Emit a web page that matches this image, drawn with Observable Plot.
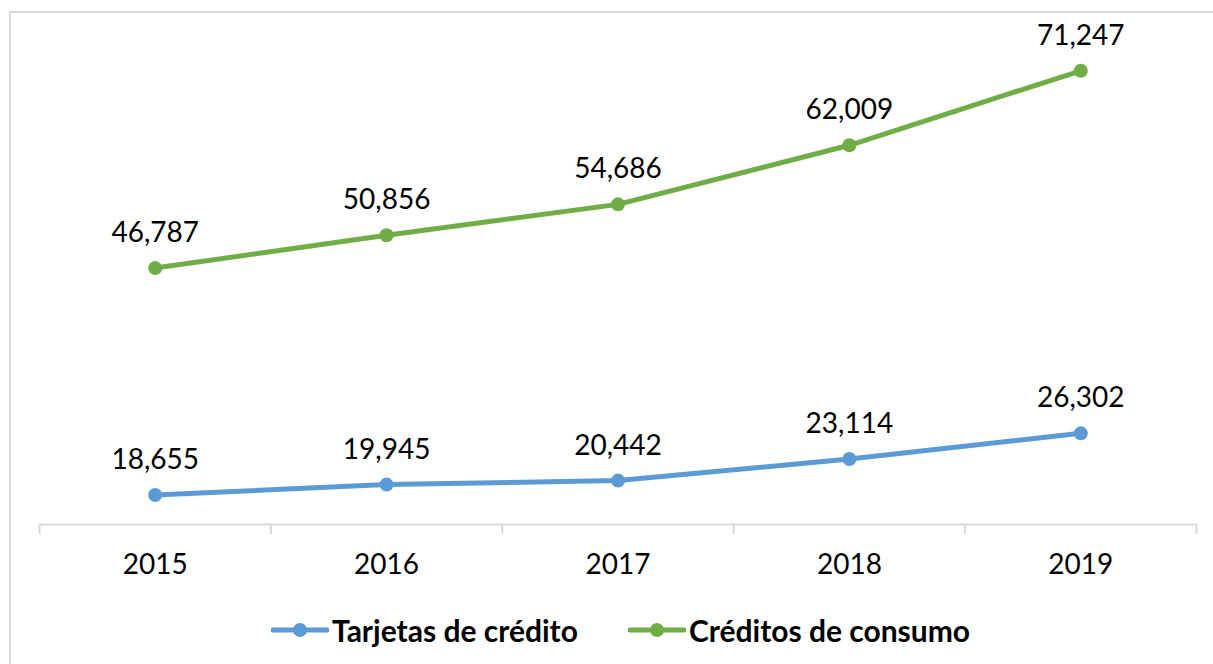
<!DOCTYPE html>
<html>
<head>
<meta charset="utf-8">
<script src="https://cdn.jsdelivr.net/npm/d3@7"></script>
<script src="https://cdn.jsdelivr.net/npm/@observablehq/plot@0.6"></script>
<style>
  html, body { margin: 0; padding: 0; background: #fff; overflow: hidden; }
  #wrap { position: relative; width: 1213px; height: 664px; font-family: Lato, "Open Sans", sans-serif; }
  #frame { position: absolute; left: 9px; top: 11px; width: 1230px; height: 700px; border: 2px solid #d9d9d9; box-sizing: border-box; pointer-events: none; }
  #chart { position: absolute; left: 0; top: 0; }
  #legend { position: absolute; left: 0; top: 600px; width: 1213px; height: 60px; padding-left: 28px; box-sizing: border-box; display: flex; justify-content: center; align-items: center; }
  .item { display: flex; align-items: center; font-weight: bold; font-size: 30px; color: #000; }
  .item + .item { margin-left: 50px; }
  .item svg { margin-right: 3px; }
</style>
</head>
<body>
<div id="wrap">
  <div id="chart"></div>
  <div id="legend"></div>
  <div id="frame"></div>
</div>
<script>
const years = [2015, 2016, 2017, 2018, 2019];
const tarjetas = [18655, 19945, 20442, 23114, 26302];
const creditos = [46787, 50856, 54686, 62009, 71247];
const seriesNames = ["Tarjetas de crédito", "Créditos de consumo"];
const seriesColors = ["#5b9bd5", "#70ad47"];

const data = [];
years.forEach((y, i) => {
  data.push({year: y, value: tarjetas[i], series: seriesNames[0]});
  data.push({year: y, value: creditos[i], series: seriesNames[1]});
});
const boundaries = [years[0] - 0.5, ...years.map(y => y + 0.5)];
const fmt = d3.format(",");

const chart = Plot.plot({
  width: 1213,
  height: 600,
  marginTop: 40,
  marginBottom: 76,
  marginLeft: 39,
  marginRight: 17,
  style: {fontFamily: "Lato, 'Open Sans', sans-serif", background: "transparent"},
  x: {type: "linear", domain: [boundaries[0], boundaries[boundaries.length - 1]], label: null},
  y: {domain: [15000, 75000], axis: null},
  color: {domain: seriesNames, range: seriesColors},
  marks: [
    Plot.ruleY([15000], {stroke: "#d9d9d9", strokeWidth: 2}),
    Plot.axisX({ticks: boundaries, tickSize: 10, tickFormat: () => "", label: null, stroke: "#d9d9d9", strokeWidth: 2, strokeOpacity: 1}),
    Plot.axisX({ticks: years, tickSize: 0, tickPadding: 30, tickFormat: d => String(d), label: null, fontSize: 28, fill: "#000"}),
    Plot.line(data, {x: "year", y: "value", z: "series", stroke: "series", strokeWidth: 5, strokeLinecap: "round"}),
    Plot.dot(data, {x: "year", y: "value", fill: "series", r: 7}),
    Plot.text(data, {x: "year", y: "value", text: d => fmt(d.value), dy: -35, fontSize: 28, fill: "#000"})
  ]
});
document.getElementById("chart").appendChild(chart);

const legend = document.getElementById("legend");
seriesNames.forEach((name, i) => {
  const item = document.createElement("div");
  item.className = "item";
  item.innerHTML = `<svg width="58" height="20"><line x1="2" y1="10" x2="56" y2="10" stroke="${seriesColors[i]}" stroke-width="5" stroke-linecap="round"/><circle cx="29" cy="10" r="7" fill="${seriesColors[i]}"/></svg><span>${name}</span>`;
  legend.appendChild(item);
});
</script>
</body>
</html>
